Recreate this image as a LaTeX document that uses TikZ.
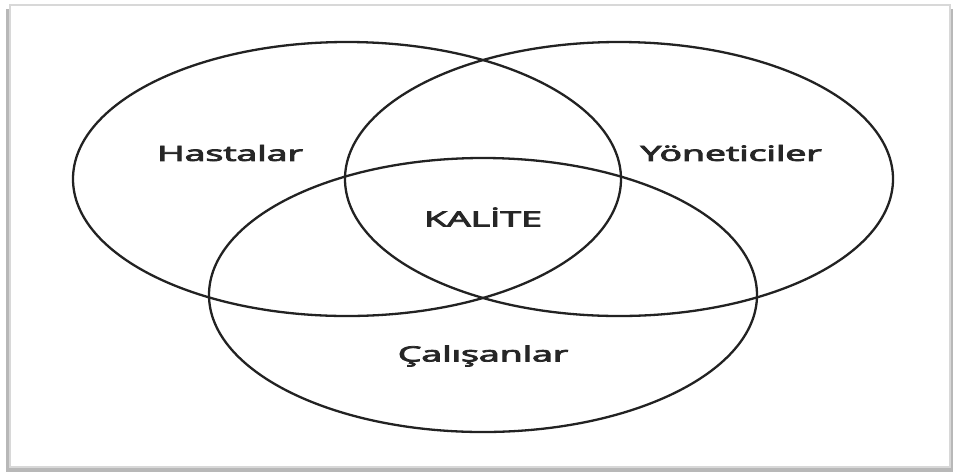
\documentclass[tikz,border=0pt]{standalone}
\usepackage{fontspec}
\setmainfont{Open Sans}
\usepackage{tikz}
\usetikzlibrary{positioning}
\definecolor{ink}{HTML}{222222}
\definecolor{txtc}{HTML}{262626}
\definecolor{framec}{HTML}{D8D8D8}
\definecolor{shadc}{HTML}{B8B8B8}
\newfontfamily\lblfont{Open Sans}[FakeBold=3.5]
\newcommand{\widetxt}[1]{\scalebox{1.78}[1]{\lblfont #1}}
\tikzset{
  set/.style={draw=ink,line width=2.3pt},
  lbl/.style={font=\fontsize{21}{24}\selectfont,text=txtc,inner sep=0pt}
}
\begin{document}
\begin{tikzpicture}[x=1pt,y=-1pt]
\useasboundingbox (0,0) rectangle (953,475);
% frame with shadow
\fill[shadc] (6,9) rectangle (953,472);
\draw[framec,fill=white,line width=1.5pt] (10,5) rectangle (950,467);
% the three sets
\draw[set] (347,179) ellipse [x radius=274,y radius=137];
\draw[set] (619,179) ellipse [x radius=274,y radius=137];
\draw[set] (483,295) ellipse [x radius=274,y radius=137];
% labels
\node[lbl] (hasta) at (230,153) {\widetxt{Hastalar}};
\node[lbl] (yonet) at (731,153) {\widetxt{Yöneticiler}};
\node[lbl] (kalite) at (483,217) {\widetxt{KALİTE}};
\node[lbl] (calis) at (483,356) {\widetxt{Çalışanlar}};
\end{tikzpicture}
\end{document}
